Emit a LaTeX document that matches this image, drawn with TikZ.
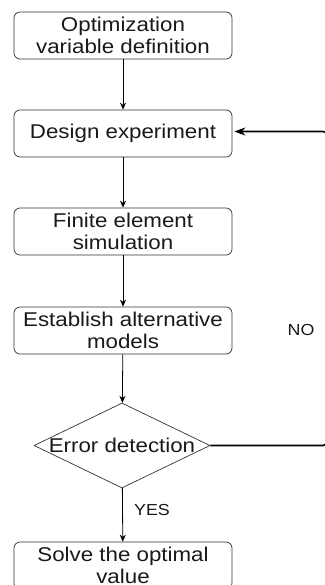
\documentclass[tikz,border=0pt]{standalone}
\usepackage{fontspec}
\setmainfont{Liberation Sans}[FakeStretch=1.12]
\usepackage{tikz}
\usetikzlibrary{shapes,arrows,positioning,calc,arrows.meta}

\begin{document}
\begin{tikzpicture}[x=1bp, y=-1bp,
    box/.style={draw=black!80, line width=0.7bp, rounded corners=6bp, minimum width=218bp, minimum height=47bp,
        inner sep=1bp, align=center, font=\fontsize{20}{22.5}\selectfont, text=black!90},
    decision/.style={draw=black!80, line width=0.7bp, diamond, minimum width=176bp, minimum height=85bp, inner sep=0pt},
    flow/.style={-{Stealth[length=7bp,width=6bp]}, line width=0.8bp},
    back/.style={-{Stealth[length=11bp,width=8bp]}, line width=1.6bp, rounded corners=4bp},
    lbl/.style={font=\fontsize{16}{18}\selectfont, text=black!90}]
    \useasboundingbox (0,0) rectangle (324,585);

    % Steps
    \node[box] (opt) at (123,35.5) {Optimization\\variable definition};
    \node[box] (des) at (123,133.5) {Design experiment};
    \node[box] (fem) at (123,231.5) {Finite element\\simulation};
    \node[box] (mod) at (123,330.5) {Establish alternative\\models};
    \node[decision, label={[font=\fontsize{20}{23}\selectfont, text=black!90]center:Error detection}] (err) at (122,445.5) {};
    \node[box] (sol) at (123,565.5) {Solve the optimal\\[-1bp]value};

    % Flow
    \draw[flow] (opt) -- (des);
    \draw[flow] (des) -- (fem);
    \draw[flow] (fem) -- (mod);
    \draw[flow] (mod) -- (err);
    \draw[flow] (err) -- (sol);

    % Feedback
    \coordinate (rb) at (327,445.5);
    \coordinate (rt) at (327,131.5);
    \draw[back, shorten >=2bp] (err.east) -- (rb) -- (rt) -- (des.east |- rt);
    \node[lbl] (no) at (301,330) {NO};
    \node[lbl] (yes) at (152,510) {YES};
\end{tikzpicture}
\end{document}
